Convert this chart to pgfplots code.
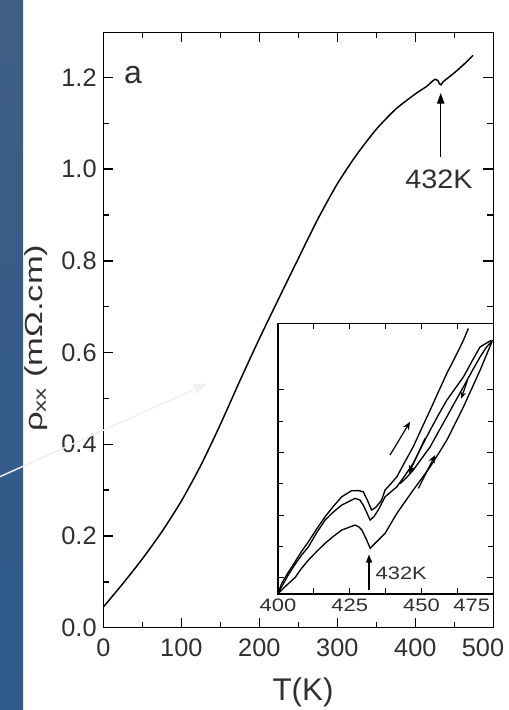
\documentclass[border=0pt]{standalone}
\usepackage{fontspec}
\setmainfont{Liberation Sans}
\newfontfamily\insetfont[FakeStretch=1.22]{Liberation Sans}
\newfontfamily\ylabfont[FakeStretch=1.4]{Liberation Sans}
\newfontfamily\annfont[FakeStretch=1.08]{Liberation Sans}
\usepackage{pgfplots}
\pgfplotsset{compat=1.18}
\usetikzlibrary{arrows.meta}
\definecolor{txt}{HTML}{303030}
\definecolor{stripTop}{HTML}{3F5E83}
\definecolor{stripMid}{HTML}{587BA3}
\definecolor{stripBot}{HTML}{2E5A8C}
\begin{document}
\begin{tikzpicture}
\path[use as bounding box, fill=white] (0,0) rectangle (381pt,532.5pt);
% main axis
\begin{axis}[
  scale only axis, width=292.5pt, height=446.4pt,
  at={(77.475pt,61.725pt)}, anchor=south west,
  xmin=0, xmax=500, ymin=0, ymax=1.298,
  xtick={0,100,200,300,400,500},
  xticklabels={0,100,200,300,400,},
  ytick={0,0.2,0.4,0.6,0.8,1.0,1.2},
  minor x tick num=1, minor y tick num=1,
  tick align=inside,
  major tick length=7.5pt, minor tick length=4.5pt,
  axis line style={line width=1.2pt},
  every tick/.style={line width=1pt, black},
  tick label style={font=\fontsize{19}{22}\selectfont, text=txt},
  yticklabel style={/pgf/number format/fixed, /pgf/number format/fixed zerofill,
    /pgf/number format/precision=1, /pgf/number format/assume math mode=true, xshift=-1.5pt},
  xticklabel style={yshift=-5pt},
  clip=false,
]
\addplot[line width=1.1pt, black, smooth, tension=0.4] coordinates {
(0,0.045) (25,0.096) (50,0.150) (75,0.209) (100,0.276) (125,0.354)
(150,0.443) (175,0.538) (200,0.630) (225,0.718) (250,0.805) (275,0.891)
(300,0.968) (325,1.032) (350,1.087) (375,1.131) (400,1.164) (415,1.181)
(422,1.192) (426,1.196) (429,1.193) (431,1.186) (433,1.184) (436,1.191)
(450,1.210) (462,1.228) (474,1.248)
};
\node[font=\fontsize{24}{28}\selectfont, text=txt] at (axis cs:38,1.205) {a};
\draw[line width=1pt, -{Triangle[length=8pt,width=5.5pt]}] (axis cs:432.6,1.027) -- (axis cs:432.6,1.166);
\node[font=\annfont\fontsize{20}{24}\selectfont, text=txt] at (axis cs:430.4,0.977) {432K};
\node[anchor=north, yshift=-5pt, font=\fontsize{19}{22}\selectfont, text=txt] at (axis cs:486.8,0) {500};
\end{axis}
% inset axis
\begin{axis}[
  scale only axis, width=161.5pt, height=203pt,
  at={(208.5pt,87pt)}, anchor=south west,
  xmin=400, xmax=475, ymin=0.74, ymax=5.06,
  xtick={400,412.5,425,437.5,450,462.5,475},
  xticklabels={400,,425,,450,,},
  ytick={1,2,3,4}, yticklabels={},
  minor y tick num=1,
  tick align=inside,
  major tick length=4.5pt, minor tick length=4pt,
  axis background/.style={fill=white},
  axis line style={line width=1pt},
  every tick/.style={line width=0.8pt, black},
  tick label style={font=\insetfont\fontsize{13.5}{16}\selectfont, text=txt},
  clip=false,
]
\addplot[line width=1pt, black] coordinates {
(400.4,0.80) (401.3,0.911) (403.5,1.08) (405.9,1.25) (408.2,1.42) (410.6,1.574)
(413.5,1.78) (416.4,1.973) (419.3,2.14) (422.2,2.292) (425.6,2.388) (428,2.39)
(429.7,2.372) (431,2.25) (432.6,2.080) (434,2.12) (436.1,2.239) (437.3,2.40)
(439.3,2.50) (441.4,2.611) (444.2,2.85) (447.1,3.089) (450,3.38) (453.0,3.675)
(455.9,3.97) (458.8,4.260) (461.7,4.52) (464.6,4.791) (466.3,4.978)
};
\addplot[line width=1pt, black] coordinates {
(400.2,0.77) (401.3,0.856) (403.5,1.04) (405.9,1.21) (408.2,1.36) (410.6,1.494)
(413.5,1.72) (416.4,1.920) (419.3,2.05) (422.2,2.159) (426.8,2.266) (428.5,2.24)
(429.7,2.159) (431,2.03) (432.1,1.920) (433.5,1.98) (434.9,2.080) (437.3,2.292)
(441.4,2.451) (444.2,2.63) (447.1,2.825) (450,3.09) (453.0,3.356) (455.9,3.60)
(458.8,3.834) (461.7,4.02) (464.6,4.206) (467.5,4.45) (470.4,4.684) (474.3,4.79)
};
\addplot[line width=1pt, black] coordinates {
(442.5,2.50) (444.8,2.60) (447.1,2.718) (450,2.90) (453.0,3.089) (455.9,3.33)
(458.8,3.568) (461.7,3.81) (464.6,4.046) (467.5,4.29) (470.4,4.525) (472.6,4.68)
(474.8,4.79)
};
\addplot[line width=1pt, black] coordinates {
(400.1,0.751) (403,0.88) (405.9,1.0) (408.2,1.15) (410.6,1.282) (413.5,1.42)
(416.4,1.549) (419.3,1.66) (422.2,1.761) (426.8,1.840) (428.2,1.81) (429.2,1.761)
(430.9,1.601) (432.1,1.469) (433.8,1.549) (437.3,1.708) (441.4,2.027) (444.2,2.21)
(447.1,2.399) (450,2.58) (453.0,2.770) (455.9,2.98) (458.8,3.196) (461.7,3.46)
(464.6,3.727) (467.5,4.02) (470.4,4.313) (474.5,4.764)
};
\draw[line width=0.9pt, -{Stealth[length=6pt,width=5pt]}] (axis cs:439.0,2.957) -- (axis cs:446.0,3.488);
\draw[line width=0.9pt, -{Stealth[length=6pt,width=5pt]}] (axis cs:448.9,2.426) -- (axis cs:454.7,2.957);
\draw[line width=0.9pt, -{Stealth[length=6pt,width=5pt]}] (axis cs:451.2,3.223) -- (axis cs:445.6,2.665);
\draw[line width=0.9pt, -{Stealth[length=5pt,width=4pt]}] (axis cs:466.0,4.15) -- (axis cs:463.8,3.86);
\draw[line width=0.9pt, -{Triangle[length=6pt,width=4.5pt]}] (axis cs:431.7,0.80) -- (axis cs:431.7,1.37);
\node[anchor=west, inner sep=0pt, font=\insetfont\fontsize{13.5}{16}\selectfont, text=txt] at (axis cs:433.9,1.07) {432K};
\node[anchor=north, font=\insetfont\fontsize{13.5}{16}\selectfont, text=txt] at (axis cs:467.5,0.74) {475};
\end{axis}
% axis titles
\node[rotate=90, font=\ylabfont\fontsize{18.5}{22}\selectfont, text=txt] at (27pt,278.8pt) {ρ\textsubscript{xx} (mΩ.cm)};
\node[font=\fontsize{23.5}{28}\selectfont, text=txt] at (227.25pt,13.1pt) {T(K)};
% slide background strip
\shade[top color=stripTop, middle color=stripMid, bottom color=stripBot] (0,0) rectangle (17.25pt,532.5pt);
% pale pointer arrow
\draw[line width=1.1pt, color=white!94!black, -{Triangle[length=10pt,width=8pt]}] (0pt,175pt) -- (155.25pt,244.75pt);
\end{tikzpicture}
\end{document}
